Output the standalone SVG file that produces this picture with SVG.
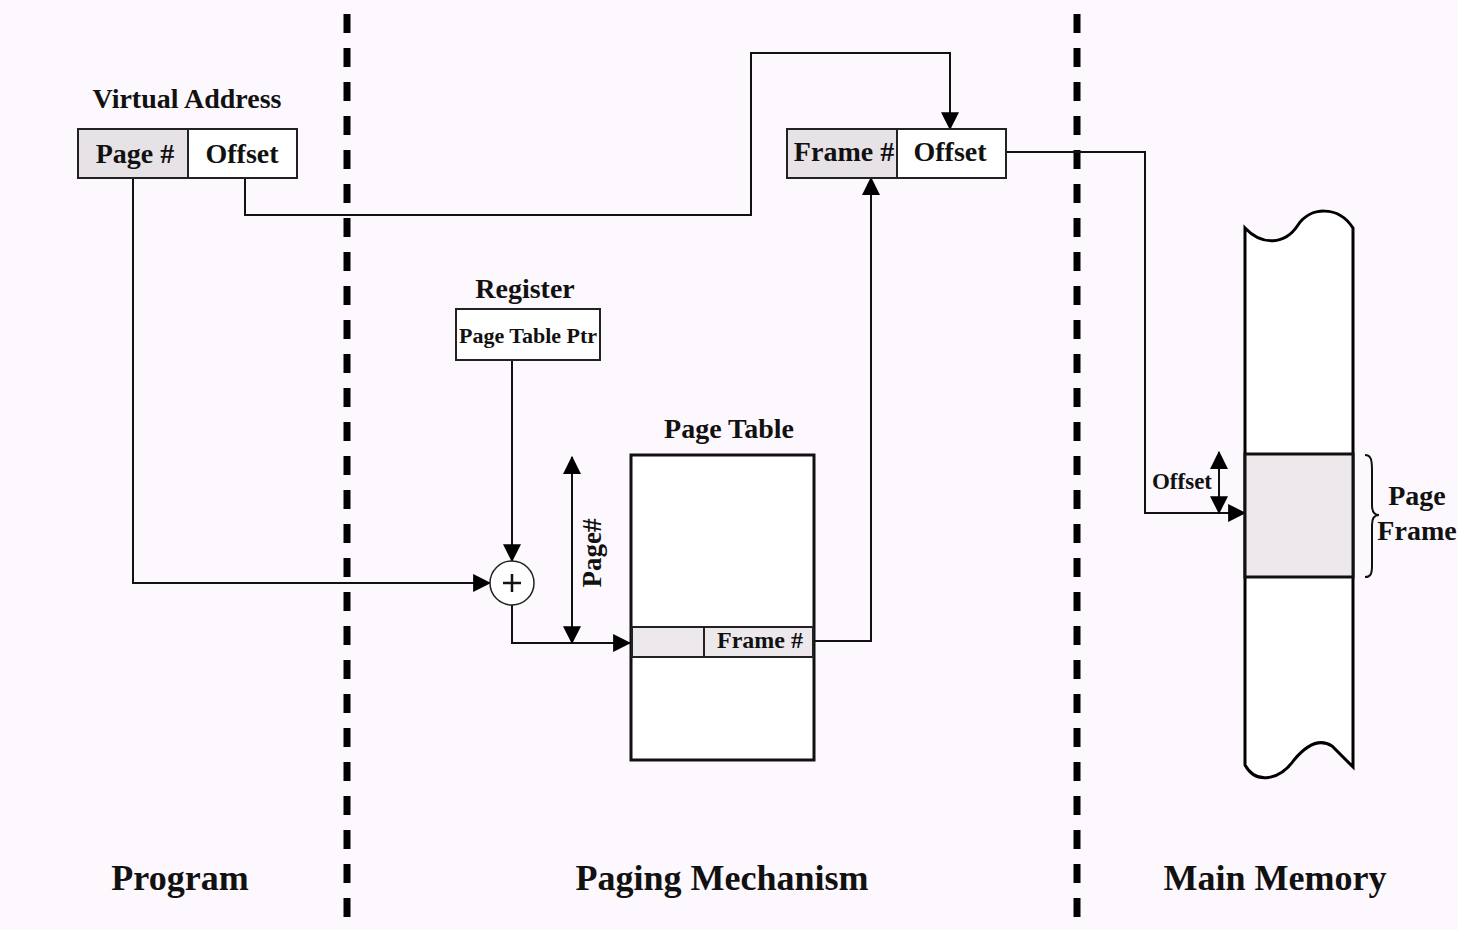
<svg xmlns="http://www.w3.org/2000/svg" width="1458" height="930" viewBox="0 0 1458 930">
<style>
text{font-family:"Liberation Serif","Times New Roman",serif;font-weight:bold;fill:#111}
.box{fill:#ffffff;stroke:#222;stroke-width:2}
.gray{fill:#e6e2e6;stroke:#222;stroke-width:2}
.conn{fill:none;stroke:#111;stroke-width:2}
.div{stroke:#000;stroke-width:7;stroke-dasharray:19 15}
</style>
<defs>
<marker id="ah" markerUnits="userSpaceOnUse" markerWidth="18" markerHeight="18" refX="15" refY="8" orient="auto-start-reverse" viewBox="0 0 16 16">
<path d="M0,0 L16,8 L0,16 Z" fill="#000"/>
</marker>
</defs>
<rect width="1458" height="930" fill="#fdf8fd"/>
<g id="dividers">
<line class="div" x1="347" y1="14" x2="347" y2="922"/>
<line class="div" x1="1077" y1="14" x2="1077" y2="922"/>
</g>
<g id="connectors">
<path class="conn" d="M133,178 V583 H490" marker-end="url(#ah)"/>
<path class="conn" d="M245,178 V215 H751 V53 H950 V129" marker-end="url(#ah)"/>
<path class="conn" d="M512,360 V561" marker-end="url(#ah)"/>
<path class="conn" d="M512,605 V643 H630" marker-end="url(#ah)"/>
<path class="conn" d="M572,457 V643" marker-start="url(#ah)" marker-end="url(#ah)"/>
<path class="conn" d="M814,641 H871 V178" marker-end="url(#ah)"/>
<path class="conn" d="M1006,152 H1145 V513 H1245" marker-end="url(#ah)"/>
<path class="conn" d="M1219,452 V513" marker-start="url(#ah)" marker-end="url(#ah)"/>
</g>
<g id="virtual-address">
<text x="187" y="108" font-size="28" text-anchor="middle">Virtual Address</text>
<rect class="gray" x="78" y="129" width="110" height="49"/>
<rect class="box" x="188" y="129" width="109" height="49"/>
<text x="135" y="163" font-size="28" text-anchor="middle">Page #</text>
<text x="242" y="163" font-size="28" text-anchor="middle">Offset</text>
</g>
<g id="physical-address">
<rect class="gray" x="787" y="129" width="110" height="49"/>
<rect class="box" x="897" y="129" width="109" height="49"/>
<text x="844" y="161" font-size="28" text-anchor="middle">Frame #</text>
<text x="950" y="161" font-size="28" text-anchor="middle">Offset</text>
</g>
<g id="register">
<text x="525" y="298" font-size="28" text-anchor="middle">Register</text>
<rect class="box" x="456" y="309" width="144" height="51"/>
<text x="528" y="343" font-size="22" text-anchor="middle">Page Table Ptr</text>
</g>
<g id="adder">
<circle cx="512" cy="583" r="22" fill="#fff" stroke="#222" stroke-width="1.5"/>
<path d="M503,583 H521 M512,574 V592" stroke="#111" stroke-width="2.5"/>
</g>
<g id="page-number-label">
<text transform="translate(601,553) rotate(-90)" font-size="27" text-anchor="middle">Page#</text>
</g>
<g id="page-table">
<text x="729" y="438" font-size="28" text-anchor="middle">Page Table</text>
<rect x="631" y="455" width="183" height="305" fill="#fff" stroke="#111" stroke-width="3"/>
<rect x="632" y="627" width="181" height="30" fill="#ece8ec" stroke="#222" stroke-width="2"/>
<line x1="704" y1="627" x2="704" y2="657" stroke="#222" stroke-width="2"/>
<text x="760" y="648" font-size="24" text-anchor="middle">Frame #</text>
</g>
<g id="main-memory">
<path d="M1245,228 C1262,246 1285,245 1298,225 C1310,207 1338,205 1353,228 V767 L1332,746 C1318,737 1304,748 1294,760 C1280,780 1256,785 1245,765 Z" fill="#fff" stroke="#000" stroke-width="3"/>
<rect x="1245" y="454" width="108" height="123" fill="#ece8ec" stroke="#111" stroke-width="3"/>
<path class="conn" d="M1365,455 C1371,455 1372,460 1372,470 V505 C1372,512 1374,515 1379,515 C1374,515 1372,518 1372,525 V566 C1372,575 1370,577 1365,577" stroke-width="1.5"/>
<text x="1182" y="489" font-size="23" text-anchor="middle">Offset</text>
<text x="1417" y="505" font-size="28" text-anchor="middle">Page</text>
<text x="1417" y="540" font-size="28" text-anchor="middle">Frame</text>
</g>
<g id="region-labels">
<text x="180" y="890" font-size="36" text-anchor="middle">Program</text>
<text x="722" y="890" font-size="36" text-anchor="middle">Paging Mechanism</text>
<text x="1275" y="890" font-size="36" text-anchor="middle">Main Memory</text>
</g>
</svg>
